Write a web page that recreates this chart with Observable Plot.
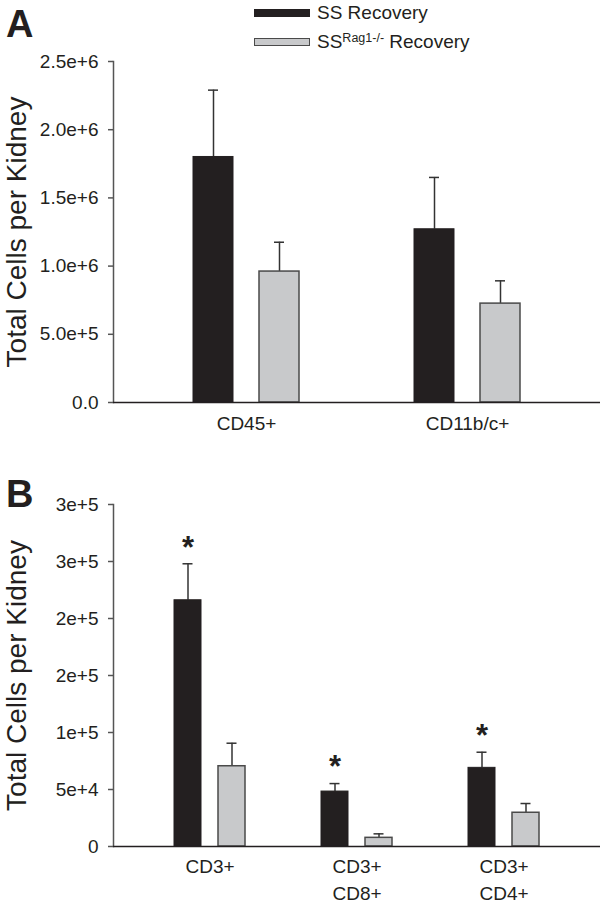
<!DOCTYPE html>
<html><head><meta charset="utf-8">
<script src="https://cdn.jsdelivr.net/npm/d3@7"></script>
<script src="https://cdn.jsdelivr.net/npm/@observablehq/plot@0.6"></script>
<style>
body{margin:0;background:#fff;font-family:"Liberation Sans",Arial,Helvetica,sans-serif;color:#231f20}
#wrap{position:relative;width:600px;height:906px;overflow:hidden;background:#fff}
.panel{position:absolute;font-weight:bold;font-size:38px;line-height:1}
.item{position:absolute;left:254px;white-space:nowrap;display:flex;align-items:center;font-size:19px;height:24px}
.sw{width:56px;height:8px;display:inline-block;margin-right:7px;box-sizing:border-box;flex:none}
.lt{display:inline-block;line-height:24px}
.lt sup{font-size:12.5px;vertical-align:6px;line-height:0}
</style></head><body>
<div id="wrap">
  <div id="plotA" style="position:absolute;left:0;top:0"></div>
  <div id="plotB" style="position:absolute;left:0;top:460px"></div>
  <div class="panel" style="left:6px;top:5px">A</div>
  <div class="panel" style="left:6px;top:475px">B</div>
  <div class="item" style="top:1px"><span class="sw" style="background:#231f20"></span><span class="lt">SS Recovery</span></div>
  <div class="item" style="top:30px"><span class="sw" style="background:#c8c9cb;border:1.5px solid #4a4a4a"></span><span class="lt">SS<sup>Rag1-/-</sup>&nbsp;Recovery</span></div>
</div>
<script>
// ---------- data ----------
const seriesNames = ["SS Recovery", "SSRag1-/- Recovery"];
const yTitle = "Total Cells per Kidney";

// Panel A
const groupsA = ["CD45+", "CD11b/c+"];
const ssA = [1.80e6, 1.27e6];
const ssErrA = [0.49e6, 0.38e6];
const ragA = [0.96e6, 0.725e6];
const ragErrA = [0.215e6, 0.167e6];
const sigA = [false, false];
const ticksA = [0, 5e5, 1e6, 1.5e6, 2e6, 2.5e6];
const tickLabelsA = ["0.0", "5.0e+5", "1.0e+6", "1.5e+6", "2.0e+6", "2.5e+6"];

// Panel B
const groupsB = ["CD3+", "CD3+\nCD8+", "CD3+\nCD4+"];
const ssB = [216e3, 48.2e3, 69e3];
const ssErrB = [32e3, 7e3, 13.7e3];
const ragB = [70.4e3, 7.6e3, 29.6e3];
const ragErrB = [20.2e3, 3.5e3, 8.1e3];
const sigB = [true, true, true];
const ticksB = [0, 5e4, 1e5, 1.5e5, 2e5, 2.5e5, 3e5];
const tickLabelsB = ["0", "5e+4", "1e+5", "2e+5", "2e+5", "3e+5", "3e+5"];

// ---------- drawing ----------
const INK = "#231f20";
function rows(groups, vals, errs, sig, series) {
  return groups.map((g, i) => ({group: g, series, value: vals[i], err: errs[i], sig: sig ? sig[i] : false}));
}

function panel(o) {
  const ss = rows(o.groups, o.ss, o.ssErr, o.sig, seriesNames[0]);
  const rag = rows(o.groups, o.rag, o.ragErr, null, seriesNames[1]);
  const capInset = (o.bw - 10) / 2;
  const errMarks = (data, dx) => [
    Plot.ruleX(data, {x: "group", y1: "value", y2: d => d.value + d.err, dx, stroke: "#333", strokeWidth: 1.5}),
    Plot.tickY(data, {x: "group", y: d => d.value + d.err, dx, insetLeft: capInset, insetRight: capInset, stroke: "#333", strokeWidth: 1.5})
  ];
  return Plot.plot({
    width: 600,
    height: o.height,
    marginLeft: 113,
    marginRight: 0,
    marginTop: o.marginTop,
    marginBottom: o.marginBottom,
    style: {fontFamily: '"Liberation Sans", Arial, Helvetica, sans-serif', color: INK, background: "white", overflow: "visible"},
    x: {type: "band", domain: o.groups, paddingInner: o.pi, paddingOuter: o.po, align: 0.5},
    y: {domain: [0, o.yMax]},
    marks: [
      ...errMarks(ss, -o.off),
      ...errMarks(rag, o.off),
      Plot.barY(ss, {x: "group", y: "value", dx: -o.off, fill: INK, stroke: INK, strokeWidth: 1}),
      Plot.barY(rag, {x: "group", y: "value", dx: o.off, fill: "#c8c9cb", stroke: "#4a4a4a", strokeWidth: 1.5}),
      Plot.text(ss.filter(d => d.sig), {x: "group", y: d => d.value + d.err, text: () => "*", dx: -o.off, dy: -16, fontSize: 31, fontWeight: "bold", fill: INK}),
      Plot.frame({anchor: "left", stroke: "#555", strokeWidth: 1.5}),
      Plot.ruleY([0], {stroke: INK, strokeWidth: 1.5}),
      Plot.axisY(o.ticks, {tickFormat: d => o.tickLabels[o.ticks.indexOf(d)], tickSize: 5, tickPadding: 10, fontSize: 19, stroke: "#555", strokeWidth: 1.5, label: null}),
      Plot.axisX({tickSize: 0, tickPadding: o.labelPad, fontSize: 19, lineHeight: 1.4, label: null}),
      Plot.text([yTitle], {text: d => d, frameAnchor: "left", textAnchor: "middle", rotate: -90, dx: -96, fontSize: 28, fill: INK})
    ]
  });
}

document.getElementById("plotA").append(panel({
  groups: groupsA, ss: ssA, ssErr: ssErrA, rag: ragA, ragErr: ragErrA, sig: sigA,
  ticks: ticksA, tickLabels: tickLabelsA, yMax: 2.5e6,
  height: 460, marginTop: 61, marginBottom: 58,
  pi: 0.819, po: 0.51, bw: 40, off: 33, labelPad: 9
}));
document.getElementById("plotB").append(panel({
  groups: groupsB, ss: ssB, ssErr: ssErrB, rag: ragB, ragErr: ragErrB, sig: sigB,
  ticks: ticksB, tickLabels: tickLabelsB, yMax: 3e5,
  height: 446, marginTop: 44, marginBottom: 60,
  pi: 0.817, po: 0.559, bw: 27, off: 22, labelPad: 8
}));
</script>
</body></html>
